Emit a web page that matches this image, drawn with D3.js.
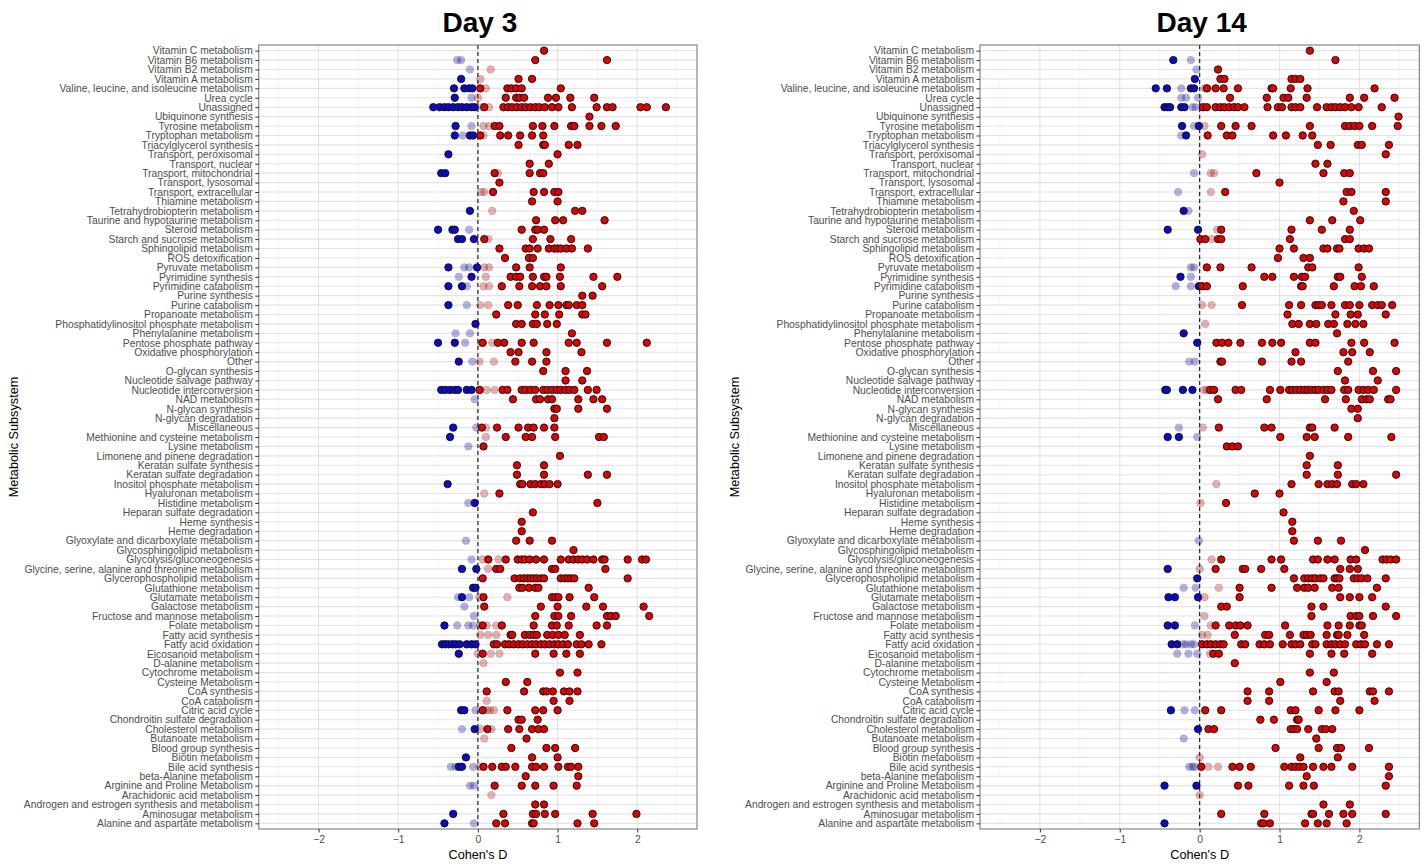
<!DOCTYPE html>
<html>
<head>
  <meta charset="utf-8">
  <title>Cohen's D by metabolic subsystem</title>
  <style>
    body { margin: 0; background: #fff; }
    text { font-family: "Liberation Sans", Arial, Helvetica, sans-serif; }
    .tick text { fill: #4d4d4d; font-size: 10.3px; }
    .tick line { stroke: #333; }
    .domain { display: none; }
  </style>
</head>
<body>
  <svg id="canvas" width="1426" height="865"></svg>
  <script src="https://d3js.org/d3.v7.min.js"></script>
  <script>
    // subsystems, top to bottom
    const subsystems = [
      "Vitamin C metabolism", "Vitamin B6 metabolism", "Vitamin B2 metabolism", "Vitamin A metabolism",
      "Valine, leucine, and isoleucine metabolism", "Urea cycle", "Unassigned", "Ubiquinone synthesis",
      "Tyrosine metabolism", "Tryptophan metabolism", "Triacylglycerol synthesis", "Transport, peroxisomal",
      "Transport, nuclear", "Transport, mitochondrial", "Transport, lysosomal", "Transport, extracellular",
      "Thiamine metabolism", "Tetrahydrobiopterin metabolism", "Taurine and hypotaurine metabolism", "Steroid metabolism",
      "Starch and sucrose metabolism", "Sphingolipid metabolism", "ROS detoxification", "Pyruvate metabolism",
      "Pyrimidine synthesis", "Pyrimidine catabolism", "Purine synthesis", "Purine catabolism",
      "Propanoate metabolism", "Phosphatidylinositol phosphate metabolism", "Phenylalanine metabolism", "Pentose phosphate pathway",
      "Oxidative phosphorylation", "Other", "O-glycan synthesis", "Nucleotide salvage pathway",
      "Nucleotide interconversion", "NAD metabolism", "N-glycan synthesis", "N-glycan degradation",
      "Miscellaneous", "Methionine and cysteine metabolism", "Lysine metabolism", "Limonene and pinene degradation",
      "Keratan sulfate synthesis", "Keratan sulfate degradation", "Inositol phosphate metabolism", "Hyaluronan metabolism",
      "Histidine metabolism", "Heparan sulfate degradation", "Heme synthesis", "Heme degradation",
      "Glyoxylate and dicarboxylate metabolism", "Glycosphingolipid metabolism", "Glycolysis/gluconeogenesis",
      "Glycine, serine, alanine and threonine metabolism", "Glycerophospholipid metabolism", "Glutathione metabolism",
      "Glutamate metabolism", "Galactose metabolism", "Fructose and mannose metabolism", "Folate metabolism",
      "Fatty acid synthesis", "Fatty acid oxidation", "Eicosanoid metabolism", "D-alanine metabolism",
      "Cytochrome metabolism", "Cysteine Metabolism", "CoA synthesis", "CoA catabolism",
      "Citric acid cycle", "Chondroitin sulfate degradation", "Cholesterol metabolism", "Butanoate metabolism",
      "Blood group synthesis", "Biotin metabolism", "Bile acid synthesis", "beta-Alanine metabolism",
      "Arginine and Proline Metabolism", "Arachidonic acid metabolism", "Androgen and estrogen synthesis and metabolism",
      "Aminosugar metabolism", "Alanine and aspartate metabolism"
    ];

    const xTicks = [-2, -1, 0, 1, 2];

    // Day 3: significant (opaque) effect sizes, one list per subsystem
    const day3Solid = [
      [0.83], [0.72, 1.62], [], [-0.21, 0.51, 0.68],
      [-0.30, -0.17, -0.11, -0.07, 0.03, 0.37, 0.42, 0.48, 0.55, 1.04],
      [-0.29, 0.35, 0.48, 0.52, 0.58, 0.88, 0.98, 1.16, 1.46],
      [-0.56, -0.48, -0.42, -0.37, -0.31, -0.25, -0.20, -0.14, -0.08, -0.04, 0.08, 0.32, 0.38, 0.43, 0.49, 0.55, 0.60, 0.66, 0.72, 0.77, 0.84, 0.93, 1.01, 1.18, 1.49, 1.62, 1.69, 2.04, 2.12, 2.36],
      [1.40],
      [-0.28, 0.21, 0.27, 0.69, 0.81, 0.96, 1.17, 1.21, 1.40, 1.55, 1.73],
      [-0.29, -0.10, -0.06, 0.03, 0.28, 0.38, 0.53, 0.68, 0.82],
      [0.51, 0.82, 0.84, 1.14, 1.25], [-0.37, 1.0], [0.65, 0.89],
      [-0.46, -0.41, 0.21, 0.65, 0.78, 0.82], [0.27], [0.19, 0.70, 0.83, 0.96, 1.01],
      [0.68, 1.0], [-0.10, 1.22, 1.31], [0.73, 0.97, 1.07, 1.59],
      [-0.50, -0.32, -0.29, 0.55, 0.72, 0.75, 0.83],
      [-0.25, -0.20, -0.05, 0.08, 0.69, 0.91, 1.17],
      [0.27, 0.60, 0.65, 0.75, 0.89, 0.96, 1.0, 1.04, 1.11, 1.18, 1.38],
      [0.34, 0.64, 0.69], [-0.37, -0.01, 0.48, 0.65, 1.04],
      [-0.08, 0.41, 0.48, 0.53, 0.69, 0.83, 0.86, 1.03, 1.45, 1.75],
      [-0.37, -0.20, 0.30, 0.52, 0.68, 0.78, 0.86, 1.04, 1.56],
      [1.31, 1.44],
      [-0.37, 0.38, 0.50, 0.74, 0.90, 1.01, 1.11, 1.14, 1.24, 1.31],
      [0.23, 0.72, 0.84, 1.02, 1.31, 1.35],
      [-0.03, 0.48, 0.55, 0.69, 0.74, 0.87, 0.99],
      [1.18],
      [-0.50, -0.29, 0.06, 0.25, 0.33, 0.55, 0.70, 1.14, 1.24, 1.62, 2.12],
      [0.41, 0.51, 0.86, 1.30], [-0.24, 0.47, 0.68, 0.86], [0.82, 1.10, 1.37], [1.10, 1.31],
      [-0.46, -0.41, -0.35, -0.29, -0.25, -0.14, -0.08, 0.02, 0.31, 0.37, 0.55, 0.60, 0.66, 0.72, 0.82, 0.87, 0.93, 0.99, 1.04, 1.10, 1.15, 1.21, 1.38, 1.49],
      [0.44, 0.73, 0.78, 0.88, 0.93, 1.26, 1.45, 1.56],
      [0.96, 0.99, 1.26, 1.62], [0.96],
      [-0.31, 0.05, 0.24, 0.51, 0.63, 0.70, 0.83, 0.96],
      [-0.35, 0.35, 0.60, 0.68, 0.97, 1.52, 1.58],
      [0.07], [1.03], [0.49, 0.83], [0.49, 0.83, 1.38, 1.62],
      [-0.38, 0.53, 0.56, 0.66, 0.72, 0.79, 0.84, 0.90, 1.0],
      [0.27], [-0.04, 1.50], [0.69], [0.55], [0.55], [0.48, 0.65, 0.93], [1.20],
      [0.13, 0.35, 0.50, 0.55, 0.59, 0.65, 0.73, 0.83, 1.04, 1.14, 1.20, 1.26, 1.31, 1.37, 1.45, 1.56, 1.59, 1.88, 2.06, 2.11],
      [-0.20, -0.02, 0.23, 0.28, 0.93, 0.97, 1.60],
      [0.06, 0.46, 0.53, 0.58, 0.62, 0.66, 0.70, 0.74, 0.79, 0.83, 1.04, 1.09, 1.13, 1.17, 1.21, 1.88],
      [-0.06, -0.03, 0.52, 0.56, 0.64, 0.72, 0.76, 1.39],
      [-0.20, 0.07, 0.93, 0.97, 1.01, 1.15, 1.46],
      [0.08, 0.79, 1.0, 1.36, 1.57, 2.08],
      [0.72, 0.96, 1.01, 1.17, 1.62, 1.67, 1.73, 2.15],
      [-0.42, 0.06, 0.30, 0.70, 0.93, 0.99, 1.14, 1.49, 1.62],
      [0.41, 0.43, 0.59, 0.65, 0.70, 0.74, 0.87, 0.94, 1.01, 1.09, 1.28],
      [-0.45, -0.41, -0.37, -0.32, -0.28, -0.23, -0.14, -0.08, -0.03, 0.20, 0.24, 0.34, 0.39, 0.45, 0.51, 0.56, 0.62, 0.68, 0.73, 0.79, 0.84, 0.90, 0.96, 1.01, 1.07, 1.13, 1.24, 1.30, 1.39, 1.55],
      [-0.24, 0.06, 0.72, 0.95, 1.11, 1.28],
      [], [1.03, 1.25], [0.35, 0.62],
      [0.11, 0.58, 0.82, 0.86, 0.94, 1.08, 1.15, 1.25],
      [0.95, 1.15],
      [-0.21, -0.17, 0.06, 0.37, 0.72, 0.82, 1.0],
      [0.51, 0.55, 0.75],
      [-0.04, 0.12, 0.38, 0.52, 0.68, 0.76, 0.83],
      [0.61], [0.42, 0.86, 0.97, 1.22], [-0.15, 0.68, 1.0],
      [-0.24, -0.20, 0.07, 0.18, 0.30, 0.35, 0.47, 0.68, 0.73, 0.83, 1.01, 1.13, 1.17, 1.26],
      [0.60, 1.26], [0.21, 0.55, 0.72, 0.95, 1.24], [], [0.72, 0.83],
      [-0.31, 0.32, 0.69, 0.73, 0.84, 0.97, 1.44, 1.99],
      [-0.42, 0.23, 0.34, 0.68, 0.70, 1.25, 1.46]
    ];

    // Day 3: non-significant (faded) effect sizes
    const day3Faded = [
      [], [-0.26, -0.21], [-0.10, 0.16], [0.03], [0.10], [-0.08, 0.0], [0.06, 0.14], [],
      [-0.08, 0.07, 0.14], [-0.19, 0.07], [], [], [], [0.25], [], [0.04, 0.08],
      [], [0.18], [], [-0.11], [0.13], [], [], [-0.17, -0.11, 0.08, 0.14],
      [-0.24, 0.10], [-0.14, 0.07, 0.14], [], [-0.14, 0.03, 0.13], [], [], [-0.28, -0.10], [-0.16, 0.04, 0.18],
      [], [-0.07, 0.02, 0.20], [], [], [0.03, 0.11, 0.21], [-0.04], [], [],
      [-0.02, 0.10], [0.10], [-0.12], [], [], [], [], [0.08],
      [-0.12], [], [], [], [-0.15], [], [-0.08, 0.06, 0.26], [0.13],
      [], [], [-0.25, -0.11, 0.02, 0.37], [-0.17], [-0.05], [-0.26, -0.12, -0.06, 0.03, 0.11, 0.23],
      [0.03, 0.13, 0.23], [], [0.0, 0.16, 0.27], [0.07], [], [], [], [0.11],
      [-0.03, 0.11, 0.15, 0.20], [], [-0.20, 0.03, 0.17], [0.08], [], [],
      [-0.34, -0.28, -0.06, 0.02], [], [-0.10, -0.05], [0.17], [], [], [-0.05]
    ];

    // Day 14: significant (opaque) effect sizes
    const day14Solid = [
      [1.38], [-0.33, 1.70], [0.23], [-0.06, 0.26, 0.31, 1.15, 1.20, 1.26],
      [-0.55, -0.41, -0.11, -0.07, 0.09, 0.20, 0.30, 0.48, 0.90, 0.92, 1.14, 1.35, 2.19],
      [0.38, 0.84, 1.05, 1.11, 1.34, 1.88, 2.06, 2.44],
      [-0.44, -0.40, -0.37, -0.23, -0.19, 0.04, 0.09, 0.20, 0.26, 0.31, 0.37, 0.43, 0.48, 0.56, 0.85, 0.98, 1.03, 1.15, 1.20, 1.26, 1.47, 1.59, 1.65, 1.70, 1.76, 1.82, 1.90, 1.99, 2.28],
      [2.49],
      [-0.22, -0.01, 0.27, 0.45, 0.65, 1.38, 1.82, 1.88, 1.94, 2.0, 2.16, 2.48],
      [-0.17, 0.10, 0.34, 0.41, 0.92, 1.08, 1.29, 1.41],
      [1.48, 1.64, 1.98, 2.03, 2.37], [2.33], [1.45, 1.60],
      [0.71, 1.55, 1.81, 1.88], [1.0], [0.32, 1.84, 1.90, 2.33],
      [1.80, 2.33], [-0.20, 1.93], [1.38, 1.66, 2.01],
      [-0.40, -0.02, 0.27, 1.15, 1.53, 1.88],
      [0.01, 0.07, 0.23, 0.27, 1.13, 1.82, 1.88],
      [1.0, 1.18, 1.55, 1.60, 1.72, 1.75, 1.99, 2.06, 2.12],
      [0.98, 1.30, 1.38], [0.09, 0.26, 0.65, 1.36, 1.41, 1.99],
      [-0.24, 0.81, 0.91, 1.18, 1.28, 1.32, 1.73, 1.76, 2.03],
      [-0.01, 0.03, 0.09, 0.54, 1.27, 1.29, 1.68, 1.94, 2.02, 2.18],
      [],
      [0.53, 1.12, 1.27, 1.45, 1.49, 1.53, 1.65, 1.82, 1.88, 2.0, 2.16, 2.23, 2.28, 2.41],
      [1.10, 1.70, 1.89, 1.98, 2.33],
      [1.16, 1.24, 1.38, 1.46, 1.61, 1.68, 1.85, 1.95, 2.05],
      [-0.20, 1.72],
      [-0.03, 0.21, 0.28, 0.36, 0.51, 0.78, 0.91, 1.02, 1.38, 1.45, 1.90, 2.06, 2.44],
      [1.20, 1.80, 1.91, 2.13], [0.26, 0.28, 0.78, 1.15, 1.27, 1.86], [1.73, 2.17, 2.46], [1.82, 2.23],
      [-0.43, -0.41, -0.21, -0.09, 0.13, 0.18, 0.45, 0.52, 0.88, 1.01, 1.12, 1.16, 1.21, 1.26, 1.31, 1.35, 1.40, 1.45, 1.49, 1.55, 1.60, 1.65, 1.81, 1.86, 1.99, 2.05, 2.11, 2.18, 2.46],
      [0.23, 0.84, 1.57, 1.83, 2.03, 2.09, 2.13, 2.36, 2.39],
      [1.90, 1.98], [1.98],
      [0.24, 0.81, 0.90, 1.38, 1.41, 1.69],
      [-0.40, -0.26, 1.01, 1.34, 1.44, 1.86, 2.40],
      [0.34, 0.41, 0.48], [1.38], [1.34, 1.73], [1.34, 1.73, 2.46],
      [1.15, 1.49, 1.60, 1.66, 1.72, 1.91, 1.96, 2.05],
      [0.69, 1.0], [0.33], [1.05], [1.16], [1.16], [1.18, 1.48, 1.77], [2.07],
      [0.27, 0.90, 1.02, 1.42, 1.48, 1.60, 1.69, 1.89, 1.96, 2.29, 2.34, 2.39, 2.46],
      [-0.40, 0.20, 0.54, 0.57, 0.77, 1.06, 1.76, 1.88, 1.98],
      [-0.03, 1.18, 1.31, 1.36, 1.41, 1.45, 1.51, 1.55, 1.69, 1.72, 1.75, 1.93, 1.98, 2.03, 2.10, 2.33],
      [0.50, 0.90, 1.22, 1.31, 1.36, 1.44, 1.66, 1.74, 2.22],
      [-0.39, -0.31, -0.02, 0.50, 1.76, 1.88, 2.0, 2.16],
      [0.27, 0.34, 1.40, 1.55, 2.33],
      [1.40, 1.89, 1.96, 2.0, 2.17, 2.46],
      [-0.40, -0.31, 0.20, 0.37, 0.45, 0.51, 0.60, 1.07, 1.60, 1.74, 1.88, 2.0, 2.03],
      [0.44, 0.82, 0.87, 1.13, 1.30, 1.34, 1.39, 1.59, 1.72, 1.74, 1.85, 2.06],
      [-0.35, -0.28, 0.03, 0.09, 0.14, 0.20, 0.26, 0.30, 0.52, 0.57, 0.75, 0.81, 0.88, 1.04, 1.15, 1.20, 1.26, 1.41, 1.45, 1.59, 1.65, 1.70, 1.76, 1.82, 1.96, 2.02, 2.07, 2.22, 2.37],
      [0.17, 0.24, 1.38, 1.65, 1.81, 2.16],
      [0.44], [1.38, 1.68], [1.01, 1.59],
      [0.60, 0.87, 1.42, 1.69, 1.74, 2.13, 2.17, 2.37],
      [0.60, 0.87, 1.76, 2.19],
      [-0.36, 0.07, 0.27, 1.14, 1.20, 1.49, 1.70, 2.0],
      [0.76, 0.93, 1.22, 1.24],
      [-0.02, 0.11, 0.18, 1.14, 1.18, 1.22, 1.36, 1.53, 1.58, 1.66],
      [1.46], [0.95, 1.49, 1.72, 1.77, 2.12], [1.26, 1.73],
      [0.02, 0.41, 0.50, 0.64, 1.06, 1.15, 1.20, 1.25, 1.30, 1.42, 1.55, 1.65, 1.91, 2.37],
      [1.34, 2.37], [-0.44, -0.04, 0.48, 0.61, 1.12, 1.30, 1.43, 2.33], [], [1.55, 1.88],
      [0.27, 0.81, 1.40, 1.42, 1.62, 1.80, 1.91, 2.33],
      [-0.44, 0.77, 0.80, 0.88, 1.32, 1.48, 1.59, 1.84]
    ];

    // Day 14: non-significant (faded) effect sizes
    const day14Faded = [
      [], [-0.11], [-0.04], [], [-0.23, 0.06, 0.10], [-0.23, -0.17, -0.02], [-0.09, -0.05], [],
      [-0.07, 0.06], [-0.23], [], [0.03], [], [-0.07, 0.14, 0.18], [], [-0.27, 0.14],
      [], [-0.14], [], [0.22], [0.15], [], [], [-0.11, -0.07],
      [-0.11], [-0.30, -0.11], [], [0.03, 0.15], [], [0.07], [], [],
      [], [-0.13, -0.06], [], [], [0.05, 0.09], [], [], [],
      [-0.26, 0.04], [-0.03], [], [], [], [], [0.21], [],
      [0.01], [], [], [], [-0.01], [], [0.15], [0.0],
      [], [-0.20, -0.05, 0.24], [0.06], [], [0.06], [-0.06, 0.14],
      [0.03, 0.10], [-0.21, -0.17, -0.11, -0.07], [-0.28, -0.14, -0.03, 0.13], [], [], [], [], [],
      [-0.19, -0.06], [], [], [-0.20], [], [0.0],
      [-0.13, -0.09, -0.06, 0.11, 0.23], [], [], [0.0], [], [], []
    ];

    const panels = [
      { title: "Day 3", left: 258.8, right: 697, yTitleX: 14, solid: day3Solid, faded: day3Faded },
      { title: "Day 14", left: 980, right: 1419.3, yTitleX: 735, solid: day14Solid, faded: day14Faded }
    ];

    const dims = { top: 45, bottom: 829, r: 3.7 };
    const colors = { pos: "#e00000", neg: "#0a0acc", fadedOpacity: 0.32 };

    const svg = d3.select("svg#canvas");

    panels.forEach(p => {
      const x = d3.scaleLinear().domain([-2.75, 2.75]).range([p.left, p.right]);
      const y = d3.scalePoint().domain(subsystems).range([dims.top, dims.bottom]).padding(0.6);
      const g = svg.append("g");

      // grid
      const minor = d3.range(-2.5, 2.51, 1);
      g.selectAll(".minor").data(minor).enter().append("line")
        .attr("x1", d => x(d)).attr("x2", d => x(d))
        .attr("y1", dims.top).attr("y2", dims.bottom)
        .attr("stroke", "#f0f0f0").attr("stroke-width", 0.7);
      g.selectAll(".vmajor").data(xTicks).enter().append("line")
        .attr("x1", d => x(d)).attr("x2", d => x(d))
        .attr("y1", dims.top).attr("y2", dims.bottom)
        .attr("stroke", "#e3e3e3").attr("stroke-width", 1.1);
      g.selectAll(".hmajor").data(subsystems).enter().append("line")
        .attr("x1", p.left).attr("x2", p.right)
        .attr("y1", d => y(d)).attr("y2", d => y(d))
        .attr("stroke", "#e3e3e3").attr("stroke-width", 1.1);

      // zero line
      g.append("line")
        .attr("x1", x(0)).attr("x2", x(0))
        .attr("y1", dims.top).attr("y2", dims.bottom)
        .attr("stroke", "#222").attr("stroke-width", 1.2)
        .attr("stroke-dasharray", "4,3");

      // points
      const pts = [];
      subsystems.forEach((s, i) => {
        p.faded[i].forEach(v => pts.push({ s: s, v: v, faded: true }));
        p.solid[i].forEach(v => pts.push({ s: s, v: v, faded: false }));
      });
      g.selectAll(".pt").data(pts).enter().append("circle")
        .attr("cx", d => x(d.v))
        .attr("cy", d => y(d.s))
        .attr("r", dims.r)
        .attr("fill", d => d.v < 0 ? colors.neg : colors.pos)
        .attr("stroke", "#111")
        .attr("stroke-width", 0.9)
        .attr("opacity", d => d.faded ? colors.fadedOpacity : 1);

      // panel border
      g.append("rect")
        .attr("x", p.left).attr("y", dims.top)
        .attr("width", p.right - p.left).attr("height", dims.bottom - dims.top)
        .attr("fill", "none").attr("stroke", "#6e6e6e").attr("stroke-width", 1);

      // axes
      g.append("g")
        .attr("transform", "translate(" + p.left + ",0)")
        .call(d3.axisLeft(y).tickSize(3.5).tickPadding(2.5));
      g.append("g")
        .attr("transform", "translate(0," + dims.bottom + ")")
        .call(d3.axisBottom(x).tickValues(xTicks).tickSize(3.5).tickPadding(3).tickFormat(d3.format("d")));

      // titles
      g.append("text")
        .attr("x", (p.left + p.right) / 2 + 2).attr("y", 32)
        .attr("text-anchor", "middle")
        .style("font-size", "28px").style("font-weight", "bold")
        .text(p.title);
      g.append("text")
        .attr("x", (p.left + p.right) / 2).attr("y", 859)
        .attr("text-anchor", "middle")
        .style("font-size", "12.7px")
        .text("Cohen's D");
      g.append("text")
        .attr("transform", "translate(" + (p.yTitleX + 4) + "," + (dims.top + dims.bottom) / 2 + ")rotate(-90)")
        .attr("text-anchor", "middle")
        .style("font-size", "12.7px")
        .text("Metabolic Subsystem");
    });
  </script>
</body>
</html>
